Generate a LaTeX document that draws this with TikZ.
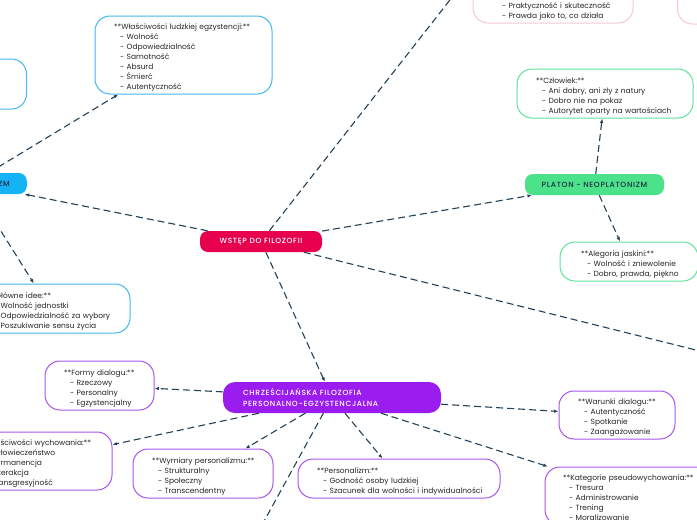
\documentclass[tikz,border=0pt]{standalone}
\usepackage{fontspec}
\setmainfont{Poppins}
\newfontfamily\lblfont{Poppins}[UprightFont=* Medium, LetterSpace=9]
\usetikzlibrary{arrows.meta}
\definecolor{conncol}{HTML}{234257}
\definecolor{redfill}{HTML}{E6004E}
\definecolor{cyanfill}{HTML}{16B2F6}
\definecolor{cyanline}{HTML}{44B8F2}
\definecolor{purpfill}{HTML}{9A1CEF}
\definecolor{purpline}{HTML}{A855F0}
\definecolor{greenfill}{HTML}{4CE28C}
\definecolor{greenline}{HTML}{5FE39D}
\definecolor{pinkline}{HTML}{F7C5DF}
\definecolor{txt}{HTML}{262626}
\definecolor{darktxt}{HTML}{1A2E3A}
\newcommand\dashitem[1]{\mbox{\hspace*{6pt}- #1}}
\newcommand\ttl[1]{\mbox{#1}}
\begin{document}
\begin{tikzpicture}[x=1pt,y=-1pt,
  conn/.style={draw=conncol, line width=1.1pt, dash pattern=on 7pt off 4pt, -{Latex[length=4.5pt,width=3.5pt]}},
  lbl/.style={rounded corners=8pt, inner sep=0pt, font=\lblfont\fontsize{7.5}{9}\selectfont, minimum height=21pt},
  box/.style={rounded corners=15pt, draw, line width=1pt, fill=white, inner xsep=19pt, inner ysep=0pt, align=left, font=\fontsize{7.5}{10}\selectfont, text=txt, execute at begin node=\rule{0pt}{12pt}, execute at end node=\strut},
  emptybox/.style={box, execute at begin node={}, execute at end node={}},
]
\useasboundingbox (0,0) rectangle (697,520);
\fill[white] (0,0) rectangle (697,520);

% central
\node[lbl, fill=redfill, text=white, minimum width=122pt] (wst) at (261,241.5) {WSTĘP DO FILOZOFII};

% left branch
\node[lbl, fill=cyanfill, text=darktxt, anchor=east, inner xsep=17pt] (egz) at (27,183.5) {EGZYSTENCJALIZM};
\node[emptybox, draw=cyanline, anchor=east, minimum width=120pt, minimum height=50pt] (cyanbox) at (27,84) {};
\node[box, draw=cyanline, text width=139pt, minimum height=78pt] (wlasc) at (183.5,55) {\ttl{**Właściwości ludzkiej egzystencji:**}\\\dashitem{Wolność}\\\dashitem{Odpowiedzialność}\\\dashitem{Samotność}\\\dashitem{Absurd}\\\dashitem{Śmierć}\\\dashitem{Autentyczność}};
\node[box, draw=cyanline, text width=123pt, minimum height=49pt] (glowne) at (49.5,308.5) {\ttl{**Główne idee:**}\\\dashitem{Wolność jednostki}\\\dashitem{Odpowiedzialność za wybory}\\\dashitem{Poszukiwanie sensu życia}};

% pragmatism (top, cut)
\node[box, draw=pinkline, inner xsep=23pt, text width=114pt, minimum height=48pt] (pink1) at (553,-1) {\mbox{}\\\mbox{}\\\dashitem{Praktyczność i skuteczność}\\\dashitem{Prawda jako to, co działa}};
\node[emptybox, draw=pinkline, anchor=west, minimum width=80pt, minimum height=48pt] (pink2) at (677,0) {};

% platon branch
\node[lbl, fill=greenfill, text=darktxt, minimum width=139pt] (plat) at (594.5,184.5) {PLATON - NEOPLATONIZM};
\node[box, draw=greenline, text width=138pt, minimum height=49pt] (czl) at (605,93.5) {\ttl{**Człowiek:**}\\\dashitem{Ani dobry, ani zły z natury}\\\dashitem{Dobro nie na pokaz}\\\dashitem{Autorytet oparty na wartościach}};
\node[box, draw=greenline, inner xsep=21pt, text width=96pt, minimum height=39pt] (aleg) at (629,261.5) {\ttl{**Alegoria jaskini:**}\\\dashitem{Wolność i zniewolenie}\\\dashitem{Dobro, prawda, piękno}};

% christian branch
\node[lbl, rounded corners=12pt, fill=purpfill, text=white, inner xsep=20pt, text width=178pt, align=left, minimum height=31pt, font=\lblfont\fontsize{7.5}{10.5}\selectfont] (chrz) at (332,397.5) {CHRZEŚCIJAŃSKA FILOZOFIA\\PERSONALNO-EGZYSTENCJALNA};
\node[box, draw=purpline, text width=71pt, minimum height=49pt] (formy) at (99.5,385.5) {\ttl{**Formy dialogu:**}\\\dashitem{Rzeczowy}\\\dashitem{Personalny}\\\dashitem{Egzystencjalny}};
\node[box, draw=purpline, text width=114pt, minimum height=58pt] (wych) at (36,461) {\ttl{**Właściwości wychowania:**}\\\dashitem{Człowieczeństwo}\\\dashitem{Permanencja}\\\dashitem{Interakcja}\\\dashitem{Transgresyjność}};
\node[box, draw=purpline, text width=102pt, minimum height=49pt] (wym) at (203,473.5) {\ttl{**Wymiary personalizmu:**}\\\dashitem{Strukturalny}\\\dashitem{Społeczny}\\\dashitem{Transcendentny}};
\node[box, draw=purpline, text width=164pt, minimum height=39pt] (pers) at (399,478.5) {\ttl{**Personalizm:**}\\\dashitem{Godność osoby ludzkiej}\\\dashitem{Szacunek dla wolności i indywidualności}};
\node[box, draw=purpline, text width=78pt, minimum height=48pt] (war) at (617,415) {\ttl{**Warunki dialogu:**}\\\dashitem{Autentyczność}\\\dashitem{Spotkanie}\\\dashitem{Zaangażowanie}};
\node[box, draw=purpline, inner xsep=18pt, text width=154pt, minimum height=58pt] (kat) at (640,496) {\ttl{**Kategorie pseudowychowania:**}\\\dashitem{Tresura}\\\dashitem{Administrowanie}\\\dashitem{Trening}\\\dashitem{Moralizowanie}};

\coordinate (pragc) at (489,-50);
\coordinate (rightc) at (760,366);
\coordinate (botc) at (251,545);

% connectors
\draw[conn] (wst) -- (egz);
\draw[conn] (wst) -- (pragc);
\draw[conn] (wst) -- (plat);
\draw[conn] (wst) -- (rightc);
\draw[conn] (wst) -- (chrz);
\draw[conn] (egz) -- (wlasc);
\draw[conn] (egz) -- (glowne);
\draw[conn] (plat) -- (czl);
\draw[conn] (plat) -- (aleg);
\draw[conn] (chrz) -- (formy);
\draw[conn] (chrz) -- (wych);
\draw[conn] (chrz) -- (wym);
\draw[conn] (chrz) -- (botc);
\draw[conn] (chrz) -- (pers);
\draw[conn] (chrz) -- (war);
\draw[conn] (chrz) -- (kat);
\end{tikzpicture}
\end{document}
